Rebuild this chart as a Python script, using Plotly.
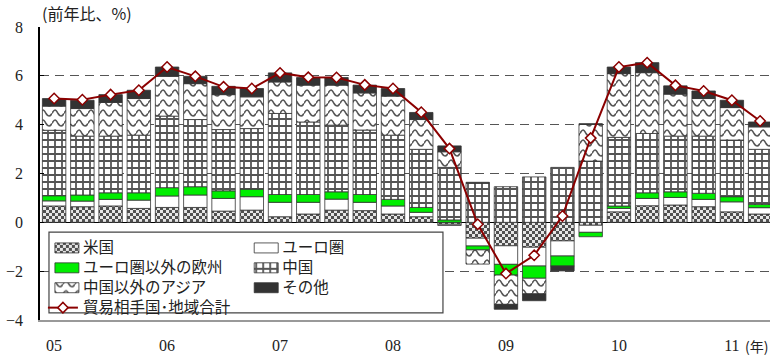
import plotly.graph_objects as go

quarters = ["05Q1", "05Q2", "05Q3", "05Q4", "06Q1", "06Q2", "06Q3", "06Q4",
            "07Q1", "07Q2", "07Q3", "07Q4", "08Q1", "08Q2", "08Q3", "08Q4",
            "09Q1", "09Q2", "09Q3", "09Q4", "10Q1", "10Q2", "10Q3", "10Q4",
            "11Q1", "11Q2"]

us = [0.67, 0.64, 0.67, 0.57, 0.61, 0.61, 0.46, 0.50, 0.23, 0.34, 0.50, 0.48, 0.34,
      0.23, -0.08, -0.65, -0.96, -1.02, -0.76, -0.12, 0.43, 0.68, 0.71, 0.64, 0.43, 0.34]
euro = [0.21, 0.23, 0.27, 0.34, 0.47, 0.51, 0.52, 0.55, 0.59, 0.48, 0.45, 0.34, 0.33,
        0.18, -0.05, -0.32, -0.76, -0.77, -0.62, -0.29, 0.14, 0.30, 0.31, 0.30, 0.41, 0.26]
other_eu = [0.21, 0.25, 0.27, 0.30, 0.34, 0.34, 0.31, 0.31, 0.32, 0.32, 0.30, 0.32, 0.27,
            0.20, 0.10, -0.16, -0.44, -0.50, -0.41, -0.18, 0.10, 0.23, 0.23, 0.25, 0.21, 0.14]
china = [2.68, 2.41, 2.32, 2.36, 2.93, 2.75, 2.51, 2.48, 3.32, 2.97, 2.73, 2.64, 2.63,
         2.38, 2.15, 1.60, 1.46, 1.86, 2.25, 2.51, 2.81, 2.43, 2.28, 2.34, 2.32, 2.25]
other_asia = [0.99, 1.13, 1.38, 1.50, 1.63, 1.47, 1.43, 1.30, 1.29, 1.51, 1.64, 1.52, 1.60,
              1.22, 0.64, -0.58, -1.20, -0.64, None, 1.50, 2.61, 2.49, 1.72, 1.54, 1.33, 0.92]
others = [0.31, 0.34, 0.32, 0.34, 0.38, 0.30, 0.34, 0.34, 0.37, 0.31, 0.31, 0.32, 0.31,
          0.29, 0.24, 0.04, -0.20, -0.28, -0.20, 0.03, 0.27, 0.41, 0.34, 0.31, 0.30, 0.20]
total = [5.07, 5.02, 5.23, 5.41, 6.36, 5.98, 5.55, 5.48, 6.12, 5.94, 5.93, 5.63, 5.48,
         4.51, 3.02, -0.08, -2.10, -1.35, 0.26, 3.45, 6.36, 6.54, 5.61, 5.38, 5.00, 4.15]

year_ticks = ["05Q1", "06Q1", "07Q1", "08Q1", "09Q1", "10Q1", "11Q1"]
year_labels = ["05", "06", "07", "08", "09", "10", "11"]

JP = "Noto Sans CJK JP"
SERIF = "Liberation Serif"
OUTLINE = dict(color="#333333", width=0.8)


def lname(s):
    return '<span style="font-size:15.5px">' + s + '</span>'


fig = go.Figure()
bar_specs = [
    ("米国", us, "patusachk", dict(color="#d8d8d8", line=OUTLINE,
        pattern=dict(shape=".", fgcolor="#444444", bgcolor="#d8d8d8", size=3, solidity=0.5)), "legend"),
    ("ユーロ圏", euro, "pateuro", dict(color="white", line=OUTLINE), "legend2"),
    ("ユーロ圏以外の欧州", other_eu, "patoeu", dict(color="#00EE00", line=OUTLINE), "legend"),
    ("中国", china, "patchngrid", dict(color="white", line=OUTLINE,
        pattern=dict(shape="+", fgcolor="#505050", bgcolor="white", size=7, solidity=0.35)), "legend2"),
    ("中国以外のアジア", other_asia, "patasiawave", dict(color="white", line=OUTLINE,
        pattern=dict(shape="x", fgcolor="#555555", bgcolor="white", size=10, solidity=0.2)), "legend"),
    ("その他", others, "patothers", dict(color="#333333", line=OUTLINE), "legend2"),
]
for name, vals, uid, mk, lg in bar_specs:
    fig.add_trace(go.Bar(x=quarters, y=vals, name=lname(name), marker=mk, legend=lg,
                         width=0.83, uid=uid))

fig.add_trace(go.Scatter(
    x=quarters, y=total, name=lname("貿易相手国･地域合計"), mode="lines+markers",
    line=dict(color="#8B0000", width=2),
    marker=dict(symbol="diamond", size=8, color="white", line=dict(color="#8B0000", width=1.5)),
    legend="legend",
))

# legend frame
fig.add_shape(type="rect", xref="paper", yref="paper", x0=0.0123, x1=0.552, y0=0.024, y1=0.30,
              line=dict(color="#444444", width=1.2), fillcolor="white", layer="above")

fig.add_annotation(text="(前年比、%)", xref="paper", yref="paper", x=0.0, y=1.0,
                   xanchor="left", yanchor="bottom", showarrow=False,
                   font=dict(family=JP, size=16, color="#222"))
fig.add_annotation(text="(年)", xref="paper", yref="paper", x=1.0, y=0.0,
                   xanchor="right", yanchor="top", yshift=-14, showarrow=False,
                   font=dict(family=JP, size=14, color="#222"))

legend_common = dict(bgcolor="rgba(0,0,0,0)", borderwidth=0, font=dict(family=JP, size=13, color="#222"),
                     traceorder="normal", orientation="v", xanchor="left", yanchor="top",
                     tracegroupgap=0)

fig.update_layout(
    width=770, height=356,
    margin=dict(l=40, r=0, t=27, b=36),
    paper_bgcolor="white", plot_bgcolor="white",
    barmode="relative", bargap=0.17,
    showlegend=True,
    legend=dict(x=0.004, y=0.297, **legend_common),
    legend2=dict(x=0.277, y=0.297, **legend_common),
    xaxis=dict(range=[-0.5, 25.35], tickmode="array", tickvals=year_ticks, ticktext=year_labels,
               showgrid=False, ticks="", showline=True, linecolor="#999999", linewidth=1.5,
               tickfont=dict(family=SERIF, size=16, color="#222"), ticklabelstandoff=10),
    yaxis=dict(range=[-4, 8], tickmode="array", tickvals=[-4, -2, 0, 2, 4, 6, 8],
               showgrid=True, gridcolor="#555555", griddash="9px,6px", gridwidth=1,
               zeroline=True, zerolinecolor="black", zerolinewidth=1,
               showline=True, linecolor="black", linewidth=1.5,
               ticks="inside", ticklen=4, tickcolor="black",
               tickfont=dict(family=SERIF, size=16, color="#222"), ticklabelstandoff=12),
)

# Styling tweak: custom fill textures (checker / grid / wave) and wider legend swatches
post_js = r"""
(function(){
  var NS = 'http://www.w3.org/2000/svg';
  function el(tag, attrs, parent){
    var e = document.createElementNS(NS, tag);
    for (var k in attrs) e.setAttribute(k, attrs[k]);
    parent.appendChild(e); return e;
  }
  function restyle(key, w, h, build){
    document.querySelectorAll('pattern').forEach(function(p){
      if (p.id.indexOf(key) === -1 || p.getAttribute('data-custom') === '1') return;
      p.setAttribute('data-custom', '1');
      p.setAttribute('width', w); p.setAttribute('height', h);
      p.setAttribute('patternUnits', 'userSpaceOnUse');
      p.removeAttribute('patternTransform');
      while (p.firstChild) p.removeChild(p.firstChild);
      build(p);
    });
  }
  function apply(){
    try {
      restyle('patusachk', 6, 6, function(p){
        el('rect', {x:0, y:0, width:6, height:6, fill:'#e6e6e6'}, p);
        el('rect', {x:0, y:0, width:3, height:3, fill:'#505050'}, p);
        el('rect', {x:3, y:3, width:3, height:3, fill:'#505050'}, p);
      });
      restyle('patchngrid', 7, 7, function(p){
        el('rect', {x:0, y:0, width:7, height:7, fill:'white'}, p);
        el('path', {d:'M0,1H7M1,0V7', fill:'none', stroke:'#555555', 'stroke-width':1.8}, p);
      });
      restyle('patasiawave', 12, 10, function(p){
        el('rect', {x:0, y:0, width:12, height:10, fill:'white'}, p);
        el('path', {d:'M0,6.5 C1,4.5 2,3 3,3 C4,3 5,4.5 6,6.5 C7,8.2 8,9 9,9 C10,9 11,8.2 12,6.5',
                    fill:'none', stroke:'#555555', 'stroke-width':1.6}, p);
      });
      document.querySelectorAll('g.legendpoints path').forEach(function(b){
        var d = (b.getAttribute('d') || '').replace(/\s/g, '');
        if (d === 'M6,6H-6V-6H6Z') b.setAttribute('d', 'M16,5H-8V-5H16Z');
      });
    } catch(e) {}
  }
  apply();
  setTimeout(apply, 30);
  setTimeout(apply, 200);
})();
"""

fig.write_html("out.html", post_script=post_js)
